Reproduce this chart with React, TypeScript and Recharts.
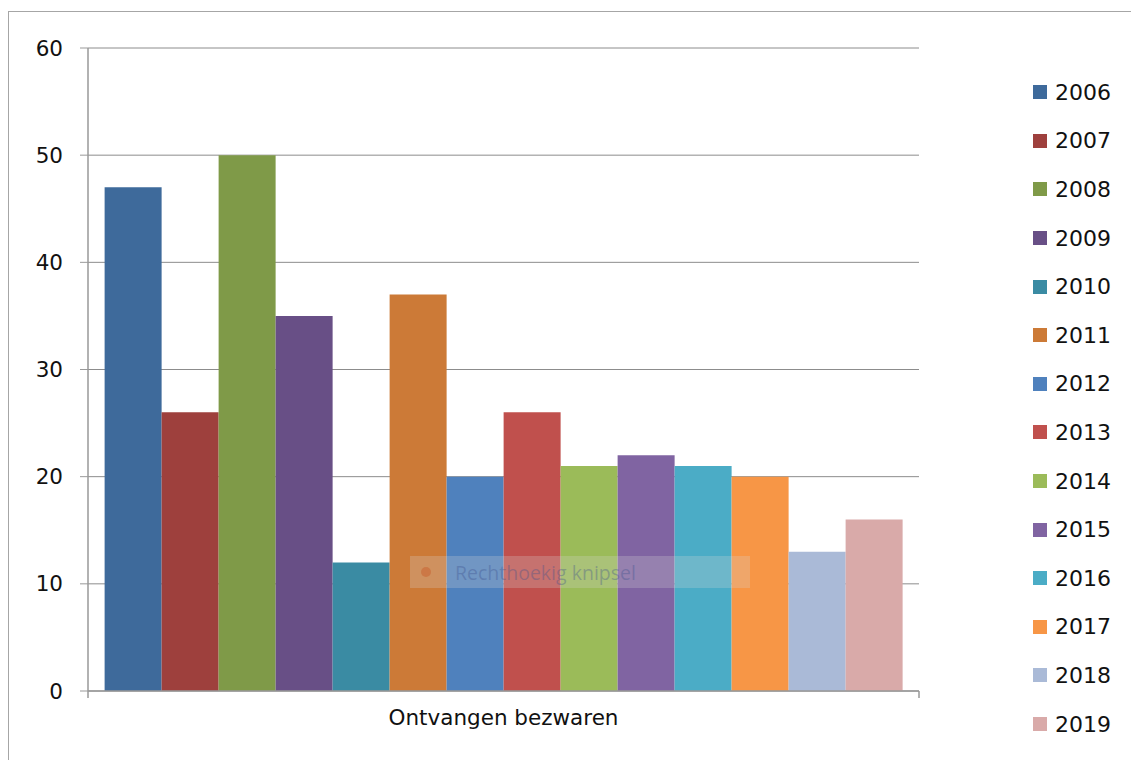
import React from 'react';
import { BarChart, Bar, XAxis, YAxis, CartesianGrid, Legend } from 'recharts';

const category = 'Ontvangen bezwaren';
const years = ['2006', '2007', '2008', '2009', '2010', '2011', '2012', '2013', '2014', '2015', '2016', '2017', '2018', '2019'];
const values = [47, 26, 50, 35, 12, 37, 20, 26, 21, 22, 21, 20, 13, 16];
const colors = [
  '#3E6A9B', '#9E403D', '#7F9A48', '#684F86', '#3A8BA3', '#CC7A37',
  '#4F81BD', '#C0504D', '#9BBB59', '#8064A2', '#4BACC6', '#F79646',
  '#AABAD7', '#D9AAA9',
];
const yTicks = [0, 10, 20, 30, 40, 50, 60];

const row: Record<string, string | number> = { name: category };
years.forEach((y, i) => {
  row[y] = values[i];
});
const data = [row];

const FONT = '"DejaVu Sans", Verdana, sans-serif';

function CategoryTick(props: any) {
  const { x, y, payload, width } = props;
  const half = width / 2;
  return (
    <g>
      <line x1={x - half} y1={y - 8} x2={x - half} y2={y - 1} stroke="#999" strokeWidth={1.5} />
      <line x1={x + half} y1={y - 8} x2={x + half} y2={y - 1} stroke="#999" strokeWidth={1.5} />
      <text x={x} y={y + 26} textAnchor="middle" fill="#111" fontSize={21.5} fontFamily={FONT}>
        {payload.value}
      </text>
    </g>
  );
}

function YearLegend(props: any) {
  const items = props.payload || [];
  return (
    <div style={{ fontFamily: FONT, fontSize: 22, color: '#111' }}>
      {items.map((it: any) => (
        <div key={it.value} style={{ height: 48.6, display: 'flex', alignItems: 'center' }}>
          <span style={{ display: 'inline-block', width: 14, height: 14, background: it.color, marginRight: 8 }} />
          <span>{it.value}</span>
        </div>
      ))}
    </div>
  );
}

export default function App() {
  return (
    <div style={{ position: 'relative', width: 1131, height: 752, overflow: 'hidden' }}>
      <div
        style={{
          position: 'absolute',
          left: 0,
          top: 3,
          width: 1200,
          height: 800,
          borderTop: '1.5px solid #a6a6a6',
          borderLeft: '1.5px solid #a6a6a6',
        }}
      />
      <BarChart
        width={1131}
        height={752}
        data={data}
        margin={{ top: 40, right: 120, left: 0, bottom: 29 }}
        barCategoryGap="2%"
        barGap={0}
      >
        <CartesianGrid vertical={false} stroke="#8c8c8c" strokeWidth={1} />
        <XAxis
          dataKey="name"
          height={40}
          axisLine={{ stroke: '#999', strokeWidth: 1.5 }}
          tickLine={false}
          tick={<CategoryTick />}
          interval={0}
        />
        <YAxis
          domain={[0, 60]}
          ticks={yTicks}
          width={80}
          axisLine={{ stroke: '#999', strokeWidth: 1.5 }}
          tickLine={{ stroke: '#999' }}
          tickSize={8}
          tickMargin={17}
          tick={{ fill: '#111', fontSize: 21.5, fontFamily: FONT }}
        />
        <Legend
          layout="vertical"
          align="right"
          verticalAlign="top"
          content={<YearLegend />}
          wrapperStyle={{ position: 'absolute', left: 1025, top: 60, width: 100 }}
        />
        {years.map((y, i) => (
          <Bar key={y} dataKey={y} fill={colors[i]} isAnimationActive={false} />
        ))}
      </BarChart>
      <div
        style={{
          position: 'absolute',
          left: 402,
          top: 548,
          width: 340,
          height: 32,
          background: 'rgba(215,215,215,0.25)',
          display: 'flex',
          alignItems: 'center',
          fontFamily: '"Open Sans", sans-serif',
          fontSize: 19.5,
          color: 'rgba(60,80,140,0.35)',
          pointerEvents: 'none',
        }}
      >
        <span
          style={{
            display: 'inline-block',
            width: 10,
            height: 10,
            borderRadius: 5,
            background: 'rgba(200,90,40,0.45)',
            marginLeft: 11,
            marginRight: 24,
          }}
        />
        Rechthoekig knipsel
      </div>
    </div>
  );
}
